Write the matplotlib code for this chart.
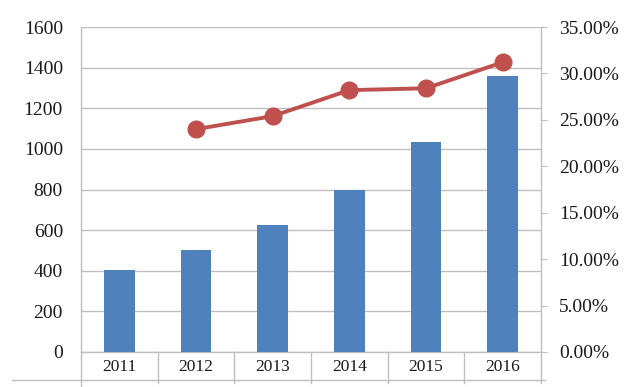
import matplotlib
matplotlib.use("Agg")
import matplotlib.pyplot as plt
import matplotlib.transforms as mtransforms
from matplotlib.lines import Line2D
from matplotlib.ticker import FuncFormatter

years = ["2011", "2012", "2013", "2014", "2015", "2016"]
values = [405, 500, 625, 800, 1035, 1360]
growth_years = ["2012", "2013", "2014", "2015", "2016"]
growth = [24.0, 25.4, 28.2, 28.4, 31.2]

plt.rcParams['font.family'] = ['Liberation Serif', 'DejaVu Serif']

fig = plt.figure(figsize=(6.42, 3.87), dpi=100)
ax = fig.add_axes([81/642, 35/387, 460/642, 325/387])
grid_c = "#BFBFBF"
text_c = "#1a1a1a"

x = list(range(len(years)))
ax.bar(x, values, width=0.4, color="#4F81BD", zorder=3)
ax.set_xlim(-0.5, len(years) - 0.5)
ax.set_ylim(0, 1600)
ax.set_yticks(range(0, 1601, 200))
ax.yaxis.grid(True, color=grid_c, linewidth=1.0, zorder=0)
ax.set_xticks(x)
ax.set_xticklabels(years)
ax.tick_params(axis='x', length=0, pad=5, labelsize=12.5, labelcolor=text_c)
ax.tick_params(axis='y', length=0, pad=13, labelsize=14, labelcolor=text_c)
for s in ["top", "right", "bottom", "left"]:
    ax.spines[s].set_visible(False)

ax2 = ax.twinx()
gx = [years.index(y) for y in growth_years]
ax2.plot(gx, growth, color="#C0504D", linewidth=2.8, marker='o', markersize=12,
         zorder=5, solid_capstyle='round')
ax2.set_ylim(0, 35)
ax2.set_yticks(range(0, 36, 5))
ax2.yaxis.set_major_formatter(FuncFormatter(lambda v, p: f"{v:.2f}%"))
ax2.tick_params(axis='y', length=4, color=grid_c, pad=9, labelsize=14, labelcolor=text_c)
for s in ["top", "left", "bottom", "right"]:
    ax2.spines[s].set_visible(False)

# table-like category separators
trans = mtransforms.blended_transform_factory(ax.transData, ax.transAxes)
for b in [i - 0.5 for i in range(len(years) + 1)]:
    bottom = -0.11 if b == -0.5 else -0.095
    top = 1.0 if b in (-0.5, len(years) - 0.5) else 0
    ax.add_line(Line2D([b, b], [bottom, top], transform=trans, color=grid_c,
                       linewidth=1.0, clip_on=False, zorder=1))
ax.add_line(Line2D([-0.5, len(years) - 0.5], [0, 0], transform=trans,
                   color=grid_c, linewidth=1.0, clip_on=False, zorder=2))
fig.add_artist(Line2D([12/642, 545/642], [7/387, 7/387], color=grid_c, linewidth=1.0))

fig.savefig("out.png", dpi=100)
